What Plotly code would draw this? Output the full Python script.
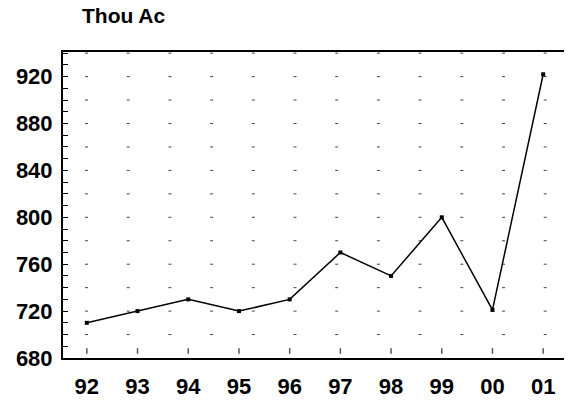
import plotly.graph_objects as go

years = ["92", "93", "94", "95", "96", "97", "98", "99", "00", "01"]
acres = [710, 720, 730, 720, 730, 770, 750, 800, 721, 922]
y_label_vals = [680, 720, 760, 800, 840, 880, 920]
grid_vals = [700, 720, 740, 760, 780, 800, 820, 840, 860, 880, 900, 920, 940]
x_mark_level = [686] * len(years)

FONT = "Liberation Sans, Arial, sans-serif"

fig = go.Figure()

# small vertical marks above the bottom axis at each category
fig.add_trace(go.Scatter(
    x=list(range(len(years))), y=x_mark_level, mode="markers",
    marker=dict(symbol="line-ns", size=4, line=dict(width=1.5, color="#555")),
    hoverinfo="skip", showlegend=False))

fig.add_trace(go.Scatter(
    x=list(range(len(years))), y=acres, mode="lines+markers",
    line=dict(color="black", width=1.5),
    marker=dict(symbol="square", size=4, color="black"),
    showlegend=False))

# dotted horizontal gridlines
for g in grid_vals:
    fig.add_shape(type="line", xref="paper", yref="y", x0=0, x1=1, y0=g, y1=g,
                  line=dict(color="#444", width=1, dash="0px,22px,3px,16.7px"), layer="below")

# page body has an 8px default margin, so the figure is sized to fit the window
fig.update_layout(
    width=564, height=392,
    margin=dict(l=55, r=6, t=44, b=42),
    plot_bgcolor="white", paper_bgcolor="white",
    font=dict(family=FONT, color="black"),
    annotations=[dict(text="<b>Thou Ac</b>", xref="paper", yref="paper",
                      x=(80 - 63) / 503, y=1, xanchor="left", yanchor="middle",
                      yshift=37, showarrow=False, font=dict(size=21, family=FONT))],
)

fig.update_xaxes(
    range=[-0.47, 9.45], tickmode="array", tickvals=list(range(len(years))),
    ticktext=[f"<b>{t}</b>" for t in years], automargin=False,
    showgrid=False, zeroline=False, ticks="", showline=True, linecolor="black", linewidth=2,
    mirror=True, tickfont=dict(size=22, family=FONT), ticklabelstandoff=8,
)
fig.update_yaxes(
    range=[680, 941], tickmode="array", tickvals=y_label_vals,
    ticktext=[f"<b>{v}</b>" for v in y_label_vals], automargin=False,
    showgrid=False, zeroline=False, showline=True, linecolor="black", linewidth=2,
    mirror=True, ticks="inside", ticklen=5, tickcolor="black",
    minor=dict(dtick=10, ticks="inside", ticklen=5, tickcolor="black", showgrid=False),
    tickfont=dict(size=22, family=FONT), ticklabelstandoff=4,
)

fig.write_html("out.html")
